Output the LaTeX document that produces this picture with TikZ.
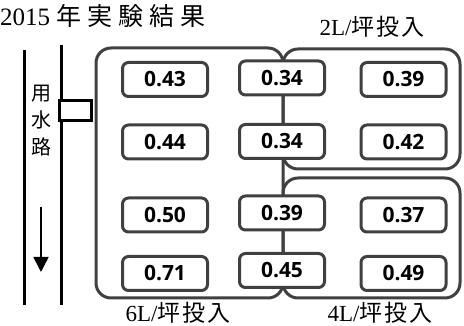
\documentclass[tikz,border=0pt]{standalone}
\usepackage{fontspec}
\setmainfont{Liberation Serif}
\newfontfamily\jpfont{Noto Sans CJK JP}
\newfontfamily\numfont{Open Sans}
\usetikzlibrary{arrows.meta, positioning}
\definecolor{rim}{HTML}{404040}

\begin{document}
\begin{tikzpicture}[x=1pt, y=1pt,
        val/.style={draw=rim, line width=3pt, rounded corners=6pt, fill=white, minimum width=85pt, minimum height=34pt, inner sep=0pt, font=\numfont\bfseries\fontsize{21}{21}\selectfont},
        zone/.style={draw=rim, line width=3pt, rounded corners=15pt},
        lbl/.style={inner sep=0pt, font=\fontsize{23}{23}\selectfont},
        bank/.style={line width=3pt}
    ]
        \useasboundingbox (0,0) rectangle (464,326);

        % Title
        \node[anchor=west, inner sep=0pt, font=\fontsize{25}{25}\selectfont] (title) at (0,310) {2015 {\jpfont 年\hspace{6pt}実\hspace{6pt}験\hspace{6pt}結\hspace{6pt}果}};

        % Zones
        \draw[zone] (96,28) rectangle (283,278);
        \draw[zone] (283,157) rectangle (460,277);
        \draw[zone] (283,28) rectangle (460,148);

        % Canal
        \draw[bank] (24,276) -- (24,21);
        \draw[bank] (61,281) -- (61,21);
        \node[draw, line width=3pt, fill=white, minimum width=32pt, minimum height=20pt, inner sep=0pt] (inlet) at (75.5,215.5) {};
        \node[align=center, inner sep=0pt, font=\jpfont\fontsize{20}{27}\selectfont] (canal) at (41,205) {用\\水\\路};
        \coordinate (flowtop) at (41,119);
        \coordinate (flowend) at (41,54);
        \draw[line width=1.5pt, -{Triangle[width=15pt, length=15pt]}] (flowtop) -- (flowend);

        % Left column
        \node[val] (a1) at (165,246.5) {0.43};
        \node[val, below=25.5pt of a1] (a2) {0.44};
        \node[val, below=36pt of a2] (a3) {0.50};
        \node[val, below=21.5pt of a3] (a4) {0.71};

        % Middle column
        \node[val] (m1) at (282,248) {0.34};
        \node[val, below=26.5pt of m1] (m2) {0.34};
        \node[val, below=34.5pt of m2] (m3) {0.39};
        \node[val, below=20.5pt of m3] (m4) {0.45};

        % Right column
        \node[val] (r1) at (403.5,246.5) {0.39};
        \node[val, below=25.5pt of r1] (r2) {0.42};
        \node[val, below=36pt of r2] (r3) {0.37};
        \node[val, below=21.5pt of r3] (r4) {0.49};

        % Labels
        \node[lbl] (two) at (372,299) {2L/{\jpfont 坪\hspace{2pt}投\hspace{2pt}入}};
        \node[lbl] (six) at (178,13) {6L/{\jpfont 坪\hspace{2pt}投\hspace{2pt}入}};
        \node[lbl] (four) at (380,13) {4L/{\jpfont 坪\hspace{2pt}投\hspace{2pt}入}};
    \end{tikzpicture}
\end{document}
